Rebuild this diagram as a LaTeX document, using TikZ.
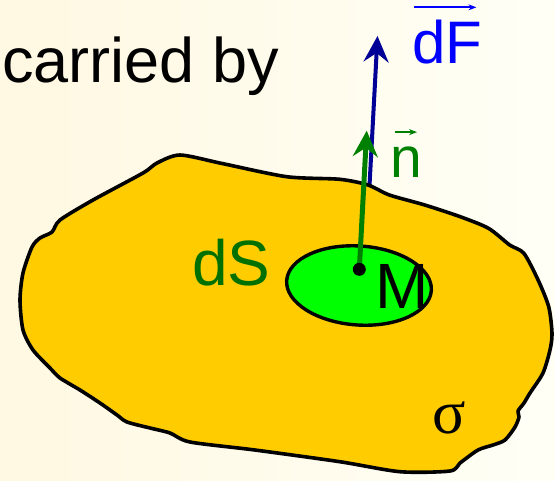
\documentclass[tikz,border=0pt]{standalone}
\usepackage{fontspec}
\setmainfont{Liberation Sans}
\newfontfamily\sigmafont{Liberation Serif}
\usetikzlibrary{arrows.meta,calc,positioning}
\definecolor{bgleft}{RGB}{255,248,226}
\definecolor{bgright}{RGB}{255,255,246}
\definecolor{gold}{RGB}{255,204,0}
\definecolor{patchgreen}{RGB}{0,255,0}
\definecolor{normalgreen}{RGB}{0,128,0}
\definecolor{labelgreen}{RGB}{0,112,0}
\definecolor{forceblue}{RGB}{0,0,150}
\definecolor{textblue}{RGB}{0,0,255}

\begin{document}
\begin{tikzpicture}[x=1pt,y=-1pt,
  lbl/.style={inner sep=0pt,anchor=base west},
  vec/.style={line width=4pt,-{Stealth[length=26pt,width=25pt,inset=9pt]}},
  hat/.style={line width=1.8pt,-{Stealth[length=8pt,width=6pt]}}]
  \shade[left color=bgleft,right color=bgright] (0,0) rectangle (555,480);
  \useasboundingbox (0,0) rectangle (555,480);
  \coordinate (M) at (359.3,269.3);
  \coordinate (Fbase) at (365,270);
  \coordinate (Ftip) at (377.5,36);
  \coordinate (ntip) at (366.7,130.7);
  % force, partly hidden by the surface
  \draw[vec,forceblue] (Fbase) -- (Ftip);
  % surface sigma
  \draw[line width=3.6pt,fill=gold,line join=round] plot[smooth cycle,tension=0.45] coordinates {
    (180,155) (221.2,163.3) (286.7,176.7) (339.8,179.3) (368.1,185) (389.4,195)
    (424.8,205) (460.2,216.7) (488.5,228.3) (509.7,245) (523.9,253.3) (538.1,280)
    (548.7,306.7) (552,333.3) (550,350) (543,373) (530,393) (524,403) (518,411)
    (519,417) (515,427) (505,440) (493,445) (478,450) (460,463) (450,471)
    (400,471.7) (339.8,461.7) (254.9,450) (190,442) (170,433) (150,428) (127,422)
    (117,415) (100,403) (80,390) (60,378) (50,368) (33,350) (23,330) (20,300)
    (23,273) (32,247) (40,238) (52,232) (60,220) (93,200) (143,173) (157,163)};
  % element dS
  \draw[line width=3.4pt,fill=patchgreen,rotate around={-4:(359,285.5)}] (359,285.5) ellipse (72.5 and 39.5);
  \draw[vec,normalgreen,line width=5pt] (M) -- (ntip);
  \fill (M) circle (6.5);
  % labels
  \node[lbl,font=\fontsize{63}{70}\selectfont] (carried) at (2,82) {carried by};
  \node[lbl,labelgreen,font=\fontsize{64}{70}\selectfont] (dS) at (192,285) {dS};
  \node[lbl,font=\fontsize{64}{70}\selectfont] (Mlbl) at (375,308) {M};
  \node[lbl,textblue,font=\fontsize{60}{70}\selectfont] (dF) at (412,63) {dF};
  \node[lbl,normalgreen,font=\fontsize{57}{70}\selectfont] (n) at (390,177) {n};
  \node[lbl,font=\sigmafont\fontsize{62}{70}\selectfont] (sigma) at (432,433) {σ};
  \draw[hat,textblue,shorten <=2pt,shorten >=6pt] ([yshift=12pt]dF.north west) -- ([yshift=12pt]dF.north east);
  \draw[hat,normalgreen,shorten <=5pt,shorten >=5pt] ([yshift=14pt]n.north west) -- ([yshift=14pt]n.north east);
\end{tikzpicture}
\end{document}
